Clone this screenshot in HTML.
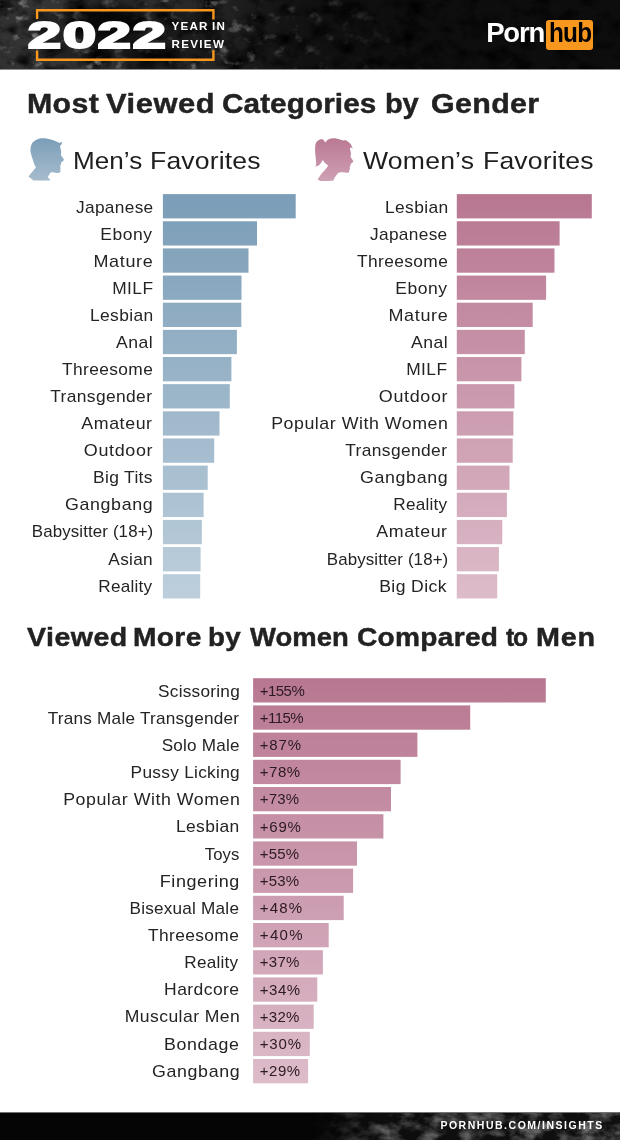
<!DOCTYPE html>
<html lang="en">
<head>
<meta charset="utf-8">
<title>2022 Year in Review - Most Viewed Categories by Gender</title>
<style>
html,body{margin:0;padding:0;background:#fff;}
body{width:620px;height:1140px;position:relative;overflow:hidden;font-family:"Liberation Sans",sans-serif;color:#222;}
.abs{position:absolute;}
#hdr{position:absolute;left:0;top:0;width:620px;height:69px;background:#0e0e0e;overflow:hidden;}
#ftr{position:absolute;left:0;top:1112px;width:620px;height:28px;background:#050505;overflow:hidden;}
.bar{position:absolute;height:24.3px;}
.lbl{position:absolute;white-space:nowrap;transform-origin:100% 50%;font-size:16.6px;line-height:19px;height:19px;color:#242424;}
.val{position:absolute;white-space:nowrap;font-size:15.0px;line-height:17px;height:17px;color:#2b1a22;}
.h1{position:absolute;white-space:nowrap;font-weight:bold;color:#222;-webkit-text-stroke:0.45px #222;}
.h2{position:absolute;white-space:nowrap;color:#1e1e1e;font-size:24.4px;line-height:30px;}
</style>
</head>
<body>
<!-- HEADER -->
<div id="hdr">
<svg class="abs" style="left:0;top:0" width="620" height="69" viewBox="0 0 620 69">
  <defs>
    <filter id="dk" x="0" y="0" width="100%" height="100%">
      <feTurbulence type="fractalNoise" baseFrequency="0.045 0.06" numOctaves="5" seed="4"/>
      <feColorMatrix type="matrix" values="0 0 0 0 0  0 0 0 0 0  0 0 0 0 0  2.2 0 0 0 -0.92"/>
    </filter>
    <filter id="lt" x="0" y="0" width="100%" height="100%">
      <feTurbulence type="fractalNoise" baseFrequency="0.07 0.09" numOctaves="4" seed="23"/>
      <feColorMatrix type="matrix" values="0 0 0 0 0.36  0 0 0 0 0.36  0 0 0 0 0.36  0 3.0 0 0 -1.8"/>
    </filter>
    <filter id="bl"><feGaussianBlur stdDeviation="7"/></filter>
    <linearGradient id="fade" x1="0" x2="1" y1="0" y2="0">
      <stop offset="0" stop-color="#fff" stop-opacity="1"/>
      <stop offset="0.34" stop-color="#fff" stop-opacity="0.8"/>
      <stop offset="0.43" stop-color="#fff" stop-opacity="0.4"/>
      <stop offset="0.6" stop-color="#fff" stop-opacity="0.18"/>
      <stop offset="0.7" stop-color="#fff" stop-opacity="0"/>
    </linearGradient>
    <mask id="m"><rect width="620" height="69" fill="url(#fade)"/></mask>
    <linearGradient id="base" x1="0" x2="1" y1="0" y2="0">
      <stop offset="0" stop-color="#313131"/>
      <stop offset="0.06" stop-color="#343434"/>
      <stop offset="0.2" stop-color="#303030"/>
      <stop offset="0.34" stop-color="#262626"/>
      <stop offset="0.41" stop-color="#191919"/>
      <stop offset="0.5" stop-color="#111"/>
      <stop offset="0.65" stop-color="#0e0e0e"/>
      <stop offset="1" stop-color="#0d0d0d"/>
    </linearGradient>
  </defs>
  <rect width="620" height="69" fill="url(#base)"/>
  <rect width="620" height="69" filter="url(#dk)"/>
  <g mask="url(#m)"><rect width="620" height="69" filter="url(#lt)"/></g>
  <ellipse cx="108" cy="22" rx="34" ry="20" fill="#000" opacity="0.75" filter="url(#bl)"/>
  <ellipse cx="150" cy="58" rx="30" ry="12" fill="#000" opacity="0.55" filter="url(#bl)"/>
  <rect x="38.2" y="11.4" width="174" height="47.2" fill="#000" opacity="0.3"/>
  <path d="M37.1,19.1V10.2H213.4V19.4M37.1,50.6V59.8H213.4V50.3" fill="none" stroke="#f7971d" stroke-width="2.4"/>
</svg>
<div class="abs" id="yr" style="left:28.2px;top:15.0px;font-weight:bold;font-size:36.0px;line-height:41px;color:#fff;transform-origin:0 0;transform:scaleX(1.645);letter-spacing:1.2px;-webkit-text-stroke:2.2px #fff;">2022</div>
<div class="abs" style="left:171.6px;top:19.0px;font-weight:bold;font-size:11.6px;line-height:13px;color:#fff;letter-spacing:1.2px;word-spacing:-1px;white-space:nowrap;">YEAR IN</div>
<div class="abs" style="left:171.6px;top:36.6px;font-weight:bold;font-size:11.6px;line-height:13px;color:#fff;letter-spacing:1.3px;white-space:nowrap;">REVIEW</div>
<div class="abs" style="left:486.2px;top:17.3px;font-weight:bold;font-size:27.5px;line-height:32px;color:#fff;letter-spacing:-1.2px;white-space:nowrap;">Porn</div>
<div class="abs" style="left:545.7px;top:19.8px;width:47px;height:30.4px;border-radius:3px;background:#f7971d;"></div>
<div class="abs" style="left:549.0px;top:17.3px;font-weight:bold;font-size:27.5px;line-height:32px;color:#000;letter-spacing:-0.9px;transform-origin:0 0;transform:scaleX(0.885);white-space:nowrap;">hub</div>
</div>

<div class="abs" style="left:0;top:69px;width:620px;height:1px;background:#8c8c8c"></div>
<div class="abs" style="left:0;top:1112px;width:620px;height:1px;background:#737373;z-index:2"></div>
<!-- TITLE 1 -->
<div id="t1"><span class="h1" style="left:26.88px;top:87.3px;font-size:28.0px;line-height:34px;letter-spacing:0.32px;transform-origin:0 0;transform:scaleX(1.082)">Most</span> <span class="h1" style="left:106.19px;top:87.3px;font-size:28.0px;line-height:34px;letter-spacing:0.49px;transform-origin:0 0;transform:scaleX(1.103)">Viewed</span> <span class="h1" style="left:221.81px;top:87.3px;font-size:28.0px;line-height:34px;letter-spacing:0.08px;transform-origin:0 0;transform:scaleX(1.061)">Categories</span> <span class="h1" style="left:385.46px;top:87.3px;font-size:28.0px;line-height:34px;letter-spacing:-0.20px;transform-origin:0 0;transform:scaleX(1.039)">by</span> <span class="h1" style="left:431.29px;top:87.3px;font-size:28.0px;line-height:34px;letter-spacing:0.32px;transform-origin:0 0;transform:scaleX(1.085)">Gender</span></div>

<!-- ICONS -->
<svg class="abs" style="left:0;top:130px" width="620" height="60" viewBox="0 130 620 60">
  <defs>
    <linearGradient id="gb" x1="0" x2="0" y1="0" y2="1"><stop offset="0" stop-color="#7c9eb8"/><stop offset="1" stop-color="#a6bccd"/></linearGradient>
    <linearGradient id="gp" x1="0" x2="0" y1="0" y2="1"><stop offset="0" stop-color="#b97992"/><stop offset="1" stop-color="#cfa0b4"/></linearGradient>
  </defs>
  <path fill="url(#gb)" d="M33.06,142.10C34.03,141.10 35.65,140.11 36.94,139.48C38.23,138.85 39.44,138.53 40.81,138.32C42.18,138.11 43.63,138.08 45.16,138.23C46.69,138.37 48.39,138.79 50.00,139.19C51.61,139.60 53.39,140.11 54.84,140.65C56.29,141.18 57.82,142.03 58.71,142.39C59.60,142.74 59.58,142.84 60.16,142.77C60.74,142.71 62.19,142.00 62.19,142.00C62.19,142.00 61.95,143.47 61.61,144.13C61.27,144.79 60.32,145.18 60.16,145.97C60.00,146.76 60.47,147.82 60.65,148.87C60.82,149.92 61.18,151.29 61.23,152.26C61.27,153.23 60.71,153.79 60.94,154.68C61.16,155.56 62.05,156.69 62.58,157.58C63.11,158.47 64.13,160.00 64.13,160.00C64.13,160.00 63.08,161.05 62.58,161.45C62.08,161.85 61.40,161.94 61.13,162.42C60.85,162.90 61.10,163.71 60.94,164.35C60.77,165.00 60.21,165.65 60.16,166.29C60.11,166.94 60.65,167.66 60.65,168.23C60.65,168.79 60.16,169.19 60.16,169.68C60.16,170.16 60.73,170.65 60.65,171.13C60.56,171.61 60.16,172.26 59.68,172.58C59.19,172.90 58.87,173.11 57.74,173.06C56.61,173.02 54.06,172.37 52.90,172.29C51.74,172.21 51.42,172.13 50.77,172.58C50.13,173.03 49.48,174.19 49.03,175.00C48.58,175.81 47.90,176.73 48.06,177.42C48.23,178.11 50.00,179.16 50.00,179.16C50.00,179.16 49.81,180.61 49.81,180.61C49.81,180.61 44.48,180.71 41.77,180.71C39.06,180.71 33.55,180.61 33.55,180.61C33.55,180.61 28.52,176.45 28.52,176.45C28.52,176.45 30.85,173.63 32.10,172.10C33.34,170.56 35.97,167.26 35.97,167.26C35.97,167.26 35.08,166.21 34.52,164.84C33.95,163.47 33.19,160.97 32.58,159.03C31.97,157.10 31.19,154.84 30.84,153.23C30.48,151.61 30.40,150.65 30.45,149.35C30.50,148.06 30.69,146.69 31.13,145.48C31.56,144.27 32.10,143.10 33.06,142.10Z"/>
  <path fill="url(#gp)" d="M316.13,142.58C316.69,141.53 317.74,140.73 318.55,140.16C319.35,139.60 320.16,139.27 320.97,139.19C321.77,139.11 322.66,139.11 323.39,139.68C324.11,140.24 325.32,142.58 325.32,142.58C325.32,142.58 326.77,140.35 327.74,139.68C328.71,139.00 329.92,138.76 331.13,138.52C332.34,138.27 333.63,138.11 335.00,138.23C336.37,138.34 337.98,138.82 339.35,139.19C340.73,139.56 342.10,140.24 343.23,140.45C344.35,140.66 345.16,140.10 346.13,140.45C347.10,140.81 348.15,141.74 349.03,142.58C349.92,143.42 350.84,144.40 351.45,145.48C352.06,146.56 352.71,149.06 352.71,149.06C352.71,149.06 351.52,147.53 351.06,147.42C350.61,147.31 350.10,147.82 350.00,148.39C349.90,148.95 350.32,149.84 350.48,150.81C350.65,151.77 350.97,153.23 350.97,154.19C350.97,155.16 350.32,155.81 350.48,156.61C350.65,157.42 351.44,158.23 351.94,159.03C352.44,159.84 353.48,161.45 353.48,161.45C353.48,161.45 352.40,162.50 351.94,162.90C351.47,163.31 350.92,163.39 350.68,163.87C350.44,164.35 350.65,165.24 350.48,165.81C350.32,166.37 349.79,166.77 349.71,167.26C349.63,167.74 350.06,168.23 350.00,168.71C349.94,169.19 349.48,169.60 349.32,170.16C349.16,170.73 349.32,171.66 349.03,172.10C348.74,172.53 348.31,172.73 347.58,172.77C346.85,172.82 346.05,172.42 344.68,172.39C343.31,172.35 340.65,172.23 339.35,172.58C338.06,172.94 337.74,173.63 336.94,174.52C336.13,175.40 335.08,176.92 334.52,177.90C333.95,178.89 333.55,180.42 333.55,180.42C333.55,180.42 330.40,180.82 328.23,180.90C326.05,180.98 320.48,180.90 320.48,180.90C320.48,180.90 317.58,179.55 317.58,179.55C317.58,179.55 321.29,174.06 322.42,172.58C323.55,171.10 323.47,171.69 324.35,170.65C325.24,169.60 327.26,167.26 327.74,166.29C328.23,165.32 327.74,165.40 327.26,164.84C326.77,164.27 325.56,163.71 324.84,162.90C324.11,162.10 322.90,160.00 322.90,160.00C322.90,160.00 321.61,162.02 320.97,162.90C320.32,163.79 319.68,164.81 319.03,165.32C318.39,165.84 317.71,165.74 317.10,166.00C316.48,166.26 315.35,166.87 315.35,166.87C315.35,166.87 316.05,165.18 316.13,163.87C316.21,162.56 316.00,160.97 315.84,159.03C315.68,157.10 315.27,154.35 315.16,152.26C315.05,150.16 315.00,148.06 315.16,146.45C315.32,144.84 315.56,143.63 316.13,142.58Z"/>
</svg>
<div id="s1"><span class="h2" style="left:72.61px;top:145.6px;font-size:24.4px;line-height:30px;letter-spacing:0.02px;transform-origin:0 0;transform:scaleX(1.069)">Men’s</span> <span class="h2" style="left:149.57px;top:145.6px;font-size:24.4px;line-height:30px;letter-spacing:0.14px;transform-origin:0 0;transform:scaleX(1.089)">Favorites</span></div>
<div id="s2"><span class="h2" style="left:363.10px;top:145.6px;font-size:24.4px;line-height:30px;letter-spacing:0.20px;transform-origin:0 0;transform:scaleX(1.089)">Women’s</span> <span class="h2" style="left:482.67px;top:145.6px;font-size:24.4px;line-height:30px;letter-spacing:0.14px;transform-origin:0 0;transform:scaleX(1.089)">Favorites</span></div>

<!-- BARS -->
<svg class="abs" style="left:0;top:0" width="620" height="1140" viewBox="0 0 620 1140">
  <defs>
    <linearGradient id="gB" gradientUnits="userSpaceOnUse" x1="0" x2="0" y1="194" y2="599"><stop offset="0" stop-color="rgb(123,157,183)"/><stop offset="1" stop-color="rgb(189,207,220)"/></linearGradient>
    <linearGradient id="gP1" gradientUnits="userSpaceOnUse" x1="0" x2="0" y1="194" y2="599"><stop offset="0" stop-color="rgb(184,119,145)"/><stop offset="1" stop-color="rgb(221,188,202)"/></linearGradient>
    <linearGradient id="gP2" gradientUnits="userSpaceOnUse" x1="0" x2="0" y1="678" y2="1083"><stop offset="0" stop-color="rgb(184,119,145)"/><stop offset="1" stop-color="rgb(221,188,202)"/></linearGradient>
  </defs>
<rect x="162.9" y="194.10" width="132.8" height="24.3" fill="url(#gB)"/>
<rect x="162.9" y="221.25" width="94.1" height="24.3" fill="url(#gB)"/>
<rect x="162.9" y="248.40" width="85.6" height="24.3" fill="url(#gB)"/>
<rect x="162.9" y="275.55" width="78.6" height="24.3" fill="url(#gB)"/>
<rect x="162.9" y="302.70" width="78.4" height="24.3" fill="url(#gB)"/>
<rect x="162.9" y="329.85" width="74.0" height="24.3" fill="url(#gB)"/>
<rect x="162.9" y="357.00" width="68.5" height="24.3" fill="url(#gB)"/>
<rect x="162.9" y="384.15" width="66.9" height="24.3" fill="url(#gB)"/>
<rect x="162.9" y="411.30" width="56.6" height="24.3" fill="url(#gB)"/>
<rect x="162.9" y="438.45" width="51.3" height="24.3" fill="url(#gB)"/>
<rect x="162.9" y="465.60" width="44.8" height="24.3" fill="url(#gB)"/>
<rect x="162.9" y="492.75" width="40.7" height="24.3" fill="url(#gB)"/>
<rect x="162.9" y="519.90" width="39.0" height="24.3" fill="url(#gB)"/>
<rect x="162.9" y="547.05" width="37.7" height="24.3" fill="url(#gB)"/>
<rect x="162.9" y="574.20" width="37.3" height="24.3" fill="url(#gB)"/>
<rect x="456.8" y="194.10" width="135.0" height="24.3" fill="url(#gP1)"/>
<rect x="456.8" y="221.25" width="102.8" height="24.3" fill="url(#gP1)"/>
<rect x="456.8" y="248.40" width="97.7" height="24.3" fill="url(#gP1)"/>
<rect x="456.8" y="275.55" width="89.3" height="24.3" fill="url(#gP1)"/>
<rect x="456.8" y="302.70" width="75.9" height="24.3" fill="url(#gP1)"/>
<rect x="456.8" y="329.85" width="68.0" height="24.3" fill="url(#gP1)"/>
<rect x="456.8" y="357.00" width="64.6" height="24.3" fill="url(#gP1)"/>
<rect x="456.8" y="384.15" width="57.6" height="24.3" fill="url(#gP1)"/>
<rect x="456.8" y="411.30" width="56.6" height="24.3" fill="url(#gP1)"/>
<rect x="456.8" y="438.45" width="55.9" height="24.3" fill="url(#gP1)"/>
<rect x="456.8" y="465.60" width="52.7" height="24.3" fill="url(#gP1)"/>
<rect x="456.8" y="492.75" width="50.1" height="24.3" fill="url(#gP1)"/>
<rect x="456.8" y="519.90" width="45.5" height="24.3" fill="url(#gP1)"/>
<rect x="456.8" y="547.05" width="42.1" height="24.3" fill="url(#gP1)"/>
<rect x="456.8" y="574.20" width="40.4" height="24.3" fill="url(#gP1)"/>
<rect x="253.1" y="678.20" width="292.7" height="24.3" fill="url(#gP2)"/>
<rect x="253.1" y="705.40" width="217.1" height="24.3" fill="url(#gP2)"/>
<rect x="253.1" y="732.60" width="164.3" height="24.3" fill="url(#gP2)"/>
<rect x="253.1" y="759.80" width="147.5" height="24.3" fill="url(#gP2)"/>
<rect x="253.1" y="787.00" width="137.9" height="24.3" fill="url(#gP2)"/>
<rect x="253.1" y="814.20" width="130.3" height="24.3" fill="url(#gP2)"/>
<rect x="253.1" y="841.40" width="103.9" height="24.3" fill="url(#gP2)"/>
<rect x="253.1" y="868.60" width="100.0" height="24.3" fill="url(#gP2)"/>
<rect x="253.1" y="895.80" width="90.6" height="24.3" fill="url(#gP2)"/>
<rect x="253.1" y="923.00" width="75.6" height="24.3" fill="url(#gP2)"/>
<rect x="253.1" y="950.20" width="69.8" height="24.3" fill="url(#gP2)"/>
<rect x="253.1" y="977.40" width="64.2" height="24.3" fill="url(#gP2)"/>
<rect x="253.1" y="1004.60" width="60.6" height="24.3" fill="url(#gP2)"/>
<rect x="253.1" y="1031.80" width="56.7" height="24.3" fill="url(#gP2)"/>
<rect x="253.1" y="1059.00" width="55.0" height="24.3" fill="url(#gP2)"/>
</svg>

<!-- CHART 1 : MEN -->
<div class="lbl" style="right:468.00px;top:198.00px;letter-spacing:0.32px;margin-right:-1.09px;transform:scaleX(1.0397)">Japanese</div>
<div class="lbl" style="right:468.00px;top:225.00px;letter-spacing:0.49px;margin-right:-0.41px;transform:scaleX(1.0550)">Ebony</div>
<div class="lbl" style="right:468.00px;top:252.00px;letter-spacing:0.62px;margin-right:-1.32px;transform:scaleX(1.0827)">Mature</div>
<div class="lbl" style="right:468.00px;top:279.00px;letter-spacing:0.42px;margin-right:-1.05px;transform:scaleX(1.0452)">MILF</div>
<div class="lbl" style="right:468.00px;top:306.00px;letter-spacing:0.36px;margin-right:-1.40px;transform:scaleX(1.0495)">Lesbian</div>
<div class="lbl" style="right:468.00px;top:333.00px;letter-spacing:0.49px;margin-right:-1.51px;transform:scaleX(1.0597)">Anal</div>
<div class="lbl" style="right:468.00px;top:360.00px;letter-spacing:0.36px;margin-right:-1.15px;transform:scaleX(1.0449)">Threesome</div>
<div class="lbl" style="right:468.00px;top:387.00px;letter-spacing:0.35px;margin-right:-0.56px;transform:scaleX(1.0488)">Transgender</div>
<div class="lbl" style="right:468.00px;top:414.00px;letter-spacing:0.56px;margin-right:-0.71px;transform:scaleX(1.0705)">Amateur</div>
<div class="lbl" style="right:468.00px;top:441.00px;letter-spacing:0.60px;margin-right:-0.81px;transform:scaleX(1.0800)">Outdoor</div>
<div class="lbl" style="right:468.00px;top:468.00px;letter-spacing:0.30px;margin-right:-0.94px;transform:scaleX(1.0508)">Big Tits</div>
<div class="lbl" style="right:468.00px;top:495.00px;letter-spacing:0.60px;margin-right:-1.77px;transform:scaleX(1.0733)">Gangbang</div>
<div class="lbl" style="right:468.00px;top:522.00px;letter-spacing:0.11px;margin-right:-1.21px;transform:scaleX(1.0181)">Babysitter (18+)</div>
<div class="lbl" style="right:468.00px;top:550.00px;letter-spacing:0.30px;margin-right:-1.32px;transform:scaleX(1.0380)">Asian</div>
<div class="lbl" style="right:468.00px;top:577.00px;letter-spacing:0.21px;margin-right:-0.16px;transform:scaleX(1.0326)">Reality</div>

<!-- CHART 1 : WOMEN -->
<div class="lbl" style="right:173.10px;top:198.00px;letter-spacing:0.36px;margin-right:-1.40px;transform:scaleX(1.0495)">Lesbian</div>
<div class="lbl" style="right:173.10px;top:225.00px;letter-spacing:0.32px;margin-right:-1.09px;transform:scaleX(1.0397)">Japanese</div>
<div class="lbl" style="right:173.10px;top:252.00px;letter-spacing:0.36px;margin-right:-1.15px;transform:scaleX(1.0449)">Threesome</div>
<div class="lbl" style="right:173.10px;top:279.00px;letter-spacing:0.49px;margin-right:-0.41px;transform:scaleX(1.0550)">Ebony</div>
<div class="lbl" style="right:173.10px;top:306.00px;letter-spacing:0.62px;margin-right:-1.32px;transform:scaleX(1.0827)">Mature</div>
<div class="lbl" style="right:173.10px;top:333.00px;letter-spacing:0.49px;margin-right:-1.51px;transform:scaleX(1.0597)">Anal</div>
<div class="lbl" style="right:173.10px;top:360.00px;letter-spacing:0.42px;margin-right:-1.05px;transform:scaleX(1.0452)">MILF</div>
<div class="lbl" style="right:173.10px;top:387.00px;letter-spacing:0.60px;margin-right:-0.81px;transform:scaleX(1.0800)">Outdoor</div>
<div class="lbl" style="right:173.10px;top:414.00px;letter-spacing:0.49px;margin-right:-1.64px;transform:scaleX(1.0712)">Popular With Women</div>
<div class="lbl" style="right:173.10px;top:441.00px;letter-spacing:0.35px;margin-right:-0.56px;transform:scaleX(1.0488)">Transgender</div>
<div class="lbl" style="right:173.10px;top:468.00px;letter-spacing:0.60px;margin-right:-1.77px;transform:scaleX(1.0733)">Gangbang</div>
<div class="lbl" style="right:173.10px;top:495.00px;letter-spacing:0.21px;margin-right:-0.16px;transform:scaleX(1.0326)">Reality</div>
<div class="lbl" style="right:173.10px;top:522.00px;letter-spacing:0.56px;margin-right:-0.71px;transform:scaleX(1.0705)">Amateur</div>
<div class="lbl" style="right:173.10px;top:550.00px;letter-spacing:0.11px;margin-right:-1.21px;transform:scaleX(1.0181)">Babysitter (18+)</div>
<div class="lbl" style="right:173.10px;top:577.00px;letter-spacing:0.39px;margin-right:-0.35px;transform:scaleX(1.0600)">Big Dick</div>

<!-- TITLE 2 -->
<div id="t2"><span class="h1" style="left:26.51px;top:620.8px;font-size:26.0px;line-height:32px;letter-spacing:0.42px;transform-origin:0 0;transform:scaleX(1.098)">Viewed</span> <span class="h1" style="left:132.73px;top:620.8px;font-size:26.0px;line-height:32px;letter-spacing:0.33px;transform-origin:0 0;transform:scaleX(1.083)">More</span> <span class="h1" style="left:207.76px;top:620.8px;font-size:26.0px;line-height:32px;letter-spacing:0.25px;transform-origin:0 0;transform:scaleX(1.067)">by</span> <span class="h1" style="left:250.30px;top:620.8px;font-size:26.0px;line-height:32px;letter-spacing:0.06px;transform-origin:0 0;transform:scaleX(1.055)">Women</span> <span class="h1" style="left:356.88px;top:620.8px;font-size:26.0px;line-height:32px;letter-spacing:0.28px;transform-origin:0 0;transform:scaleX(1.080)">Compared</span> <span class="h1" style="left:506.35px;top:620.8px;font-size:26.0px;line-height:32px;letter-spacing:-1.22px;transform-origin:0 0;transform:scaleX(0.949)">to</span> <span class="h1" style="left:535.99px;top:620.8px;font-size:26.0px;line-height:32px;letter-spacing:0.67px;transform-origin:0 0;transform:scaleX(1.105)">Men</span></div>

<!-- CHART 2 -->
<div class="lbl" style="right:381.70px;top:682.00px;letter-spacing:0.24px;margin-right:-1.28px;transform:scaleX(1.0368)">Scissoring</div>
<div class="val" style="left:259.8px;top:682.00px;letter-spacing:-0.55px">+155%</div>
<div class="lbl" style="right:381.70px;top:709.00px;letter-spacing:0.23px;margin-right:-0.50px;transform:scaleX(1.0343)">Trans Male Transgender</div>
<div class="val" style="left:259.8px;top:709.00px;letter-spacing:-0.55px">+115%</div>
<div class="lbl" style="right:381.70px;top:736.00px;letter-spacing:0.22px;margin-right:-0.99px;transform:scaleX(1.0304)">Solo Male</div>
<div class="val" style="left:259.8px;top:736.00px;letter-spacing:0.81px">+87%</div>
<div class="lbl" style="right:381.70px;top:763.00px;letter-spacing:0.27px;margin-right:-1.33px;transform:scaleX(1.0422)">Pussy Licking</div>
<div class="val" style="left:259.8px;top:763.00px;letter-spacing:0.54px">+78%</div>
<div class="lbl" style="right:381.70px;top:790.00px;letter-spacing:0.49px;margin-right:-1.64px;transform:scaleX(1.0712)">Popular With Women</div>
<div class="val" style="left:259.8px;top:790.00px;letter-spacing:0.21px">+73%</div>
<div class="lbl" style="right:381.70px;top:817.00px;letter-spacing:0.36px;margin-right:-1.40px;transform:scaleX(1.0495)">Lesbian</div>
<div class="val" style="left:259.8px;top:818.00px;letter-spacing:0.77px">+69%</div>
<div class="lbl" style="right:381.70px;top:845.00px;letter-spacing:0.04px;margin-right:-0.64px;transform:scaleX(1.0050)">Toys</div>
<div class="val" style="left:259.8px;top:845.00px;letter-spacing:0.21px">+55%</div>
<div class="lbl" style="right:381.70px;top:872.00px;letter-spacing:0.53px;margin-right:-1.67px;transform:scaleX(1.0838)">Fingering</div>
<div class="val" style="left:259.8px;top:872.00px;letter-spacing:0.21px">+53%</div>
<div class="lbl" style="right:381.70px;top:899.00px;letter-spacing:0.22px;margin-right:-0.97px;transform:scaleX(1.0333)">Bisexual Male</div>
<div class="val" style="left:259.8px;top:899.00px;letter-spacing:1.17px">+48%</div>
<div class="lbl" style="right:381.70px;top:926.00px;letter-spacing:0.36px;margin-right:-1.15px;transform:scaleX(1.0449)">Threesome</div>
<div class="val" style="left:259.8px;top:926.00px;letter-spacing:1.34px">+40%</div>
<div class="lbl" style="right:381.70px;top:953.00px;letter-spacing:0.21px;margin-right:-0.16px;transform:scaleX(1.0326)">Reality</div>
<div class="val" style="left:259.8px;top:953.00px;letter-spacing:0.24px">+37%</div>
<div class="lbl" style="right:381.70px;top:980.00px;letter-spacing:0.40px;margin-right:-1.11px;transform:scaleX(1.0545)">Hardcore</div>
<div class="val" style="left:259.8px;top:981.00px;letter-spacing:0.54px">+34%</div>
<div class="lbl" style="right:381.70px;top:1007.00px;letter-spacing:0.42px;margin-right:-1.57px;transform:scaleX(1.0581)">Muscular Men</div>
<div class="val" style="left:259.8px;top:1008.00px;letter-spacing:0.24px">+32%</div>
<div class="lbl" style="right:381.70px;top:1035.00px;letter-spacing:0.59px;margin-right:-1.31px;transform:scaleX(1.0717)">Bondage</div>
<div class="val" style="left:259.8px;top:1035.00px;letter-spacing:0.81px">+30%</div>
<div class="lbl" style="right:381.70px;top:1062.00px;letter-spacing:0.60px;margin-right:-1.77px;transform:scaleX(1.0733)">Gangbang</div>
<div class="val" style="left:259.8px;top:1062.00px;letter-spacing:0.54px">+29%</div>

<!-- FOOTER -->
<div id="ftr">
<svg class="abs" style="left:0;top:0" width="620" height="28" viewBox="0 0 620 28">
  <defs>
    <filter id="smoke2" x="0" y="0" width="100%" height="100%">
      <feTurbulence type="fractalNoise" baseFrequency="0.05 0.08" numOctaves="5" seed="3"/>
      <feColorMatrix type="matrix" values="0 0 0 0 0.17  0 0 0 0 0.17  0 0 0 0 0.17  2.6 0 0 0 -1.05"/>
    </filter>
    <linearGradient id="fade2" x1="0" x2="1" y1="0" y2="0">
      <stop offset="0.5" stop-color="#fff" stop-opacity="0"/>
      <stop offset="0.62" stop-color="#fff" stop-opacity="0.8"/>
      <stop offset="1" stop-color="#fff" stop-opacity="1"/>
    </linearGradient>
    <mask id="m2"><rect width="620" height="28" fill="url(#fade2)"/></mask>
  </defs>
  <rect width="620" height="28" fill="#050505"/>
  <g mask="url(#m2)"><rect width="620" height="28" fill="#101010"/><rect width="620" height="28" filter="url(#smoke2)"/></g>
</svg>
<div class="abs" id="ft" style="left:440.4px;top:7.4px;font-weight:bold;font-size:10.5px;line-height:12px;color:#fff;letter-spacing:1.52px;white-space:nowrap;">PORNHUB.COM/INSIGHTS</div>
</div>
</body>
</html>
